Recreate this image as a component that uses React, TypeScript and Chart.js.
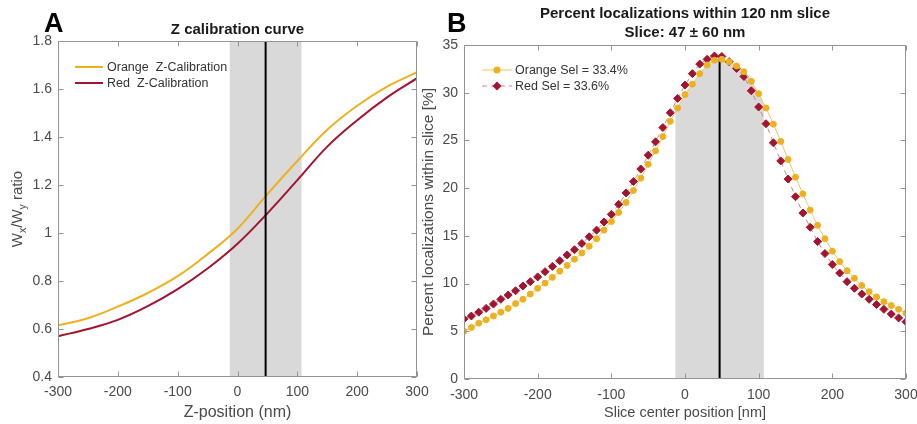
import React, { useEffect, useRef } from "react";
import { Chart, registerables } from "chart.js";

Chart.register(...registerables);

// ---------------- data ----------------
// Panel A: Z calibration curve
const zPositions = [-300, -250, -200, -150, -100, -50, 0, 50, 100, 150, 200, 250, 300];
const orangeCalib = [0.615, 0.645, 0.693, 0.75, 0.82, 0.912, 1.018, 1.162, 1.3, 1.43, 1.53, 1.61, 1.67];
const redCalib = [0.57, 0.6, 0.638, 0.695, 0.766, 0.852, 0.955, 1.082, 1.22, 1.36, 1.47, 1.565, 1.645];
const zTicks = [-300, -200, -100, 0, 100, 200, 300];
const ratioTicks = [0.4, 0.6, 0.8, 1, 1.2, 1.4, 1.6, 1.8];

// Panel B: percent localizations within slice
const slicePositions = [
  -300, -290, -280, -270, -260, -250, -240, -230, -220, -210,
  -200, -190, -180, -170, -160, -150, -140, -130, -120, -110,
  -100, -90, -80, -70, -60, -50, -40, -30, -20, -10,
  0, 10, 20, 30, 40, 50, 60, 70, 80, 90,
  100, 110, 120, 130, 140, 150, 160, 170, 180, 190,
  200, 210, 220, 230, 240, 250, 260, 270, 280, 290, 300,
];
const orangeSel = [
  5.0, 5.4, 5.85, 6.2, 6.6, 7.0, 7.4, 7.9, 8.35, 8.9,
  9.5, 10.05, 10.65, 11.3, 11.9, 12.55, 13.2, 13.9, 14.7, 15.6,
  16.5, 17.45, 18.5, 19.75, 21.05, 22.5, 23.9, 25.4, 27.0, 28.4,
  29.8, 30.9, 32.0, 32.9, 33.4, 33.5, 33.25, 32.8, 32.2, 31.2,
  29.9, 28.4, 26.7, 24.9, 23.0, 21.15, 19.4, 17.7, 16.1, 14.7,
  13.4, 12.3, 11.35, 10.55, 9.8, 9.15, 8.6, 8.1, 7.7, 7.3, 6.9,
];
const redSel = [
  6.3, 6.6, 7.0, 7.4, 7.85, 8.35, 8.8, 9.25, 9.75, 10.2,
  10.7, 11.25, 11.8, 12.4, 13.0, 13.55, 14.2, 14.9, 15.6, 16.45,
  17.25, 18.3, 19.5, 20.7, 22.0, 23.45, 24.85, 26.35, 27.9, 29.4,
  30.8, 32.0, 33.0, 33.5, 33.85, 33.8, 33.25, 32.55, 31.7, 30.2,
  28.5, 26.75, 24.75, 22.85, 20.95, 19.1, 17.4, 15.9, 14.4, 13.15,
  12.0, 11.1, 10.2, 9.5, 8.9, 8.35, 7.8, 7.3, 6.8, 6.4, 6.0,
];
const percentTicks = [0, 5, 10, 15, 20, 25, 30, 35];

const sliceCenter = 47;
const sliceHalfWidth = 60;
const slicePeak = 33.7;

// ---------------- styles ----------------
const FONT = "'Liberation Sans', Arial, Helvetica, sans-serif";
const AXIS_COLOR = "#949494";
const TEXT_COLOR = "#4a4a4a";
const TITLE_COLOR = "#1a1a1a";
const BAND = "#d9d9d9";
const ORANGE = "#EDB120";
const RED = "#A2142F";
const ORANGE_LINE = "#F3C562";
const RED_LINE = "#D4838F";

function drawFrame(chart: any) {
  const { ctx, chartArea: a, scales } = chart;
  const x = scales.x;
  const y = scales.y;
  ctx.save();
  ctx.strokeStyle = AXIS_COLOR;
  ctx.lineWidth = 1;
  const L = Math.round(a.left) + 0.5;
  const R = Math.round(a.right) - 0.5;
  const T = Math.round(a.top) + 0.5;
  const B = Math.round(a.bottom) - 0.5;
  ctx.strokeRect(L, T, R - L, B - T);
  const tl = 5;
  ctx.beginPath();
  x.ticks.forEach((t: any) => {
    const px = Math.round(x.getPixelForValue(t.value)) + 0.5;
    ctx.moveTo(px, B);
    ctx.lineTo(px, B - tl);
    ctx.moveTo(px, T);
    ctx.lineTo(px, T + tl);
  });
  y.ticks.forEach((t: any) => {
    const py = Math.round(y.getPixelForValue(t.value)) + 0.5;
    ctx.moveTo(L, py);
    ctx.lineTo(L + tl, py);
    ctx.moveTo(R, py);
    ctx.lineTo(R - tl, py);
  });
  ctx.stroke();
  ctx.restore();
}

function zeroPadding(s: any) {
  s.paddingLeft = 0;
  s.paddingRight = 0;
  s.paddingTop = 0;
  s.paddingBottom = 0;
}

const panelAPlugin = {
  id: "panelA",
  beforeDatasetsDraw(chart: any) {
    const { ctx, chartArea: a, scales } = chart;
    const x = scales.x;
    const x0 = x.getPixelForValue(sliceCenter - sliceHalfWidth);
    const x1 = x.getPixelForValue(sliceCenter + sliceHalfWidth);
    ctx.save();
    ctx.fillStyle = BAND;
    ctx.fillRect(x0, a.top, x1 - x0, a.bottom - a.top);
    ctx.restore();
  },
  afterDatasetsDraw(chart: any) {
    const { ctx, chartArea: a, scales } = chart;
    const x = scales.x;
    const xc = x.getPixelForValue(sliceCenter);
    ctx.save();
    ctx.strokeStyle = "#000";
    ctx.lineWidth = 2;
    ctx.beginPath();
    ctx.moveTo(xc, a.top);
    ctx.lineTo(xc, a.bottom);
    ctx.stroke();
    ctx.restore();
    drawFrame(chart);

    // legend
    ctx.save();
    ctx.font = `12.5px ${FONT}`;
    ctx.textBaseline = "middle";
    ctx.textAlign = "left";
    chart.data.datasets.forEach((ds: any, i: number) => {
      const yy = a.top + 26 + i * 16;
      ctx.strokeStyle = ds.borderColor;
      ctx.lineWidth = 2;
      ctx.beginPath();
      ctx.moveTo(a.left + 17, yy);
      ctx.lineTo(a.left + 45, yy);
      ctx.stroke();
      ctx.fillStyle = "#333";
      ctx.fillText(ds.label, a.left + 49, yy + 0.5);
    });
    ctx.restore();
  },
  afterDraw(chart: any) {
    const { ctx, chartArea: a } = chart;
    ctx.save();
    ctx.fillStyle = TITLE_COLOR;
    ctx.textAlign = "center";
    ctx.textBaseline = "middle";
    ctx.font = `bold 15px ${FONT}`;
    ctx.fillText("Z calibration curve", (a.left + a.right) / 2, 30);
    ctx.fillStyle = "#000";
    ctx.textAlign = "left";
    ctx.textBaseline = "alphabetic";
    ctx.font = `bold 27px ${FONT}`;
    ctx.fillText("A", 44, 32);

    // y title with subscripts
    const parts: [string, boolean][] = [
      ["W", false],
      ["x", true],
      ["/W", false],
      ["y", true],
      [" ratio", false],
    ];
    const mainFont = `15px ${FONT}`;
    const subFont = `10.5px ${FONT}`;
    let total = 0;
    const widths = parts.map(([t, sub]) => {
      ctx.font = sub ? subFont : mainFont;
      const w = ctx.measureText(t).width;
      total += w;
      return w;
    });
    ctx.translate(17, (a.top + a.bottom) / 2);
    ctx.rotate(-Math.PI / 2);
    ctx.fillStyle = TEXT_COLOR;
    let cx = -total / 2;
    parts.forEach(([t, sub], i) => {
      ctx.font = sub ? subFont : mainFont;
      ctx.fillText(t, cx, sub ? 9 : 5);
      cx += widths[i];
    });
    ctx.restore();
  },
};

const panelBPlugin = {
  id: "panelB",
  beforeDatasetsDraw(chart: any) {
    const { ctx, chartArea: a, scales } = chart;
    const x = scales.x;
    const y = scales.y;
    const x0 = x.getPixelForValue(sliceCenter - sliceHalfWidth);
    const x1 = x.getPixelForValue(sliceCenter + sliceHalfWidth);
    const y0 = y.getPixelForValue(0);
    const pts = chart.getDatasetMeta(0).data;
    ctx.save();
    ctx.beginPath();
    ctx.rect(x0, a.top, x1 - x0, a.bottom - a.top);
    ctx.clip();
    ctx.beginPath();
    ctx.moveTo(pts[0].x, y0);
    pts.forEach((p: any) => ctx.lineTo(p.x, p.y));
    ctx.lineTo(pts[pts.length - 1].x, y0);
    ctx.closePath();
    ctx.fillStyle = BAND;
    ctx.fill();
    ctx.restore();

    const xc = x.getPixelForValue(sliceCenter);
    ctx.save();
    ctx.strokeStyle = "#000";
    ctx.lineWidth = 2;
    ctx.beginPath();
    ctx.moveTo(xc, y0);
    ctx.lineTo(xc, y.getPixelForValue(slicePeak));
    ctx.stroke();
    ctx.restore();
  },
  afterDatasetsDraw(chart: any) {
    const { ctx, chartArea: a } = chart;
    drawFrame(chart);
    ctx.save();
    ctx.font = `12.5px ${FONT}`;
    ctx.textBaseline = "middle";
    ctx.textAlign = "left";
    chart.data.datasets.forEach((ds: any, i: number) => {
      const yy = a.top + 25 + i * 16;
      ctx.strokeStyle = ds.borderColor;
      ctx.lineWidth = 1;
      ctx.setLineDash(ds.borderDash || []);
      ctx.beginPath();
      ctx.moveTo(a.left + 18, yy);
      ctx.lineTo(a.left + 48, yy);
      ctx.stroke();
      ctx.setLineDash([]);
      const mx = a.left + 33;
      ctx.fillStyle = ds.pointBackgroundColor;
      ctx.beginPath();
      if (ds.pointStyle === "rectRot") {
        const r = ds.pointRadius + 0.5;
        ctx.moveTo(mx - r, yy);
        ctx.lineTo(mx, yy - r);
        ctx.lineTo(mx + r, yy);
        ctx.lineTo(mx, yy + r);
        ctx.closePath();
      } else {
        ctx.arc(mx, yy, ds.pointRadius + 0.5, 0, Math.PI * 2);
      }
      ctx.fill();
      ctx.fillStyle = "#333";
      ctx.fillText(ds.label, a.left + 51, yy + 0.5);
    });
    ctx.restore();
  },
  afterDraw(chart: any) {
    const { ctx, chartArea: a } = chart;
    ctx.save();
    ctx.fillStyle = TITLE_COLOR;
    ctx.textAlign = "center";
    ctx.textBaseline = "middle";
    ctx.font = `bold 15px ${FONT}`;
    const cx = (a.left + a.right) / 2;
    ctx.fillText("Percent localizations within 120 nm slice", cx, 14);
    ctx.fillText("Slice: 47 \u00B1 60 nm", cx, 33);
    ctx.fillStyle = "#000";
    ctx.textAlign = "left";
    ctx.textBaseline = "alphabetic";
    ctx.font = `bold 27px ${FONT}`;
    ctx.fillText("B", 29, 32);
    ctx.restore();
  },
};

function fmt(v: number) {
  return String(Math.round(v * 100) / 100);
}

export default function App() {
  const refA = useRef<HTMLCanvasElement>(null);
  const refB = useRef<HTMLCanvasElement>(null);

  useEffect(() => {
    const tickFont = { family: FONT, size: 14 };

    const chartA = new Chart(refA.current as HTMLCanvasElement, {
      type: "line",
      data: {
        datasets: [
          {
            label: "Orange  Z-Calibration",
            data: zPositions.map((x, i) => ({ x, y: orangeCalib[i] })),
            borderColor: ORANGE,
            borderWidth: 2,
            pointRadius: 0,
            tension: 0.4,
            fill: false,
          },
          {
            label: "Red  Z-Calibration",
            data: zPositions.map((x, i) => ({ x, y: redCalib[i] })),
            borderColor: RED,
            borderWidth: 2,
            pointRadius: 0,
            tension: 0.4,
            fill: false,
          },
        ],
      },
      options: {
        responsive: false,
        animation: false,
        layout: { padding: { left: 0, right: 13, top: 41, bottom: 0 } },
        plugins: { legend: { display: false }, title: { display: false }, tooltip: { enabled: false } },
        scales: {
          x: {
            type: "linear",
            min: -300,
            max: 300,
            afterBuildTicks: (s: any) => {
              s.ticks = zTicks.map((v) => ({ value: v }));
            },
            afterFit: (s: any) => {
              s.height = 47;
              zeroPadding(s);
            },
            grid: { display: false, drawTicks: false },
            border: { display: false },
            ticks: { font: tickFont, color: TEXT_COLOR, padding: 6.6, maxRotation: 0, autoSkip: false, callback: (v: any) => fmt(v) },
            title: { display: true, text: "Z-position (nm)", font: { family: FONT, size: 16 }, color: TEXT_COLOR, padding: { top: 0, bottom: 1.4 } },
          },
          y: {
            type: "linear",
            min: 0.4,
            max: 1.8,
            afterBuildTicks: (s: any) => {
              s.ticks = ratioTicks.map((v) => ({ value: v }));
            },
            afterFit: (s: any) => {
              s.width = 58;
              zeroPadding(s);
            },
            grid: { display: false, drawTicks: false },
            border: { display: false },
            ticks: { font: tickFont, color: TEXT_COLOR, padding: 6, autoSkip: false, callback: (v: any) => fmt(v) },
          },
        },
      },
      plugins: [panelAPlugin],
    } as any);

    const chartB = new Chart(refB.current as HTMLCanvasElement, {
      type: "line",
      data: {
        datasets: [
          {
            label: "Orange Sel = 33.4%",
            data: slicePositions.map((x, i) => ({ x, y: orangeSel[i] })),
            borderColor: ORANGE_LINE,
            borderWidth: 1,
            pointStyle: "circle",
            pointRadius: 3,
            pointBorderWidth: 1,
            pointBackgroundColor: ORANGE,
            pointBorderColor: ORANGE,
            tension: 0,
            fill: false,
          },
          {
            label: "Red Sel = 33.6%",
            data: slicePositions.map((x, i) => ({ x, y: redSel[i] })),
            borderColor: RED_LINE,
            borderWidth: 1,
            borderDash: [5, 4],
            pointStyle: "rectRot",
            pointRadius: 4,
            pointBorderWidth: 1,
            pointBackgroundColor: RED,
            pointBorderColor: RED,
            tension: 0,
            fill: false,
          },
        ],
      },
      options: {
        responsive: false,
        animation: false,
        layout: { padding: { left: 0, right: 11, top: 45, bottom: 0 } },
        plugins: { legend: { display: false }, title: { display: false }, tooltip: { enabled: false } },
        scales: {
          x: {
            type: "linear",
            min: -300,
            max: 300,
            afterBuildTicks: (s: any) => {
              s.ticks = zTicks.map((v) => ({ value: v }));
            },
            afterFit: (s: any) => {
              s.height = 45;
              zeroPadding(s);
            },
            grid: { display: false, drawTicks: false },
            border: { display: false },
            ticks: { font: tickFont, color: TEXT_COLOR, padding: 7.3, maxRotation: 0, autoSkip: false, callback: (v: any) => fmt(v) },
            title: { display: true, text: "Slice center position [nm]", font: { family: FONT, size: 14.5 }, color: TEXT_COLOR, padding: { top: 0, bottom: 2.3 } },
          },
          y: {
            type: "linear",
            min: 0,
            max: 35,
            afterBuildTicks: (s: any) => {
              s.ticks = percentTicks.map((v) => ({ value: v }));
            },
            afterFit: (s: any) => {
              s.width = 46;
              zeroPadding(s);
            },
            grid: { display: false, drawTicks: false },
            border: { display: false },
            ticks: { font: tickFont, color: TEXT_COLOR, padding: 6, autoSkip: false, callback: (v: any) => fmt(v) },
            title: { display: true, text: "Percent localizations within slice [%]", font: { family: FONT, size: 15.5 }, color: TEXT_COLOR, padding: { top: 1.7, bottom: 0 } },
          },
        },
      },
      plugins: [panelBPlugin],
    } as any);

    return () => {
      chartA.destroy();
      chartB.destroy();
    };
  }, []);

  return (
    <div style={{ position: "fixed", left: 0, top: 0, width: 917, height: 424, background: "#fff", overflow: "hidden" }}>
      <canvas ref={refA} width={430} height={424} style={{ position: "absolute", left: 0, top: 0, width: 430, height: 424 }} />
      <canvas ref={refB} width={499} height={424} style={{ position: "absolute", left: 418, top: 0, width: 499, height: 424 }} />
    </div>
  );
}
